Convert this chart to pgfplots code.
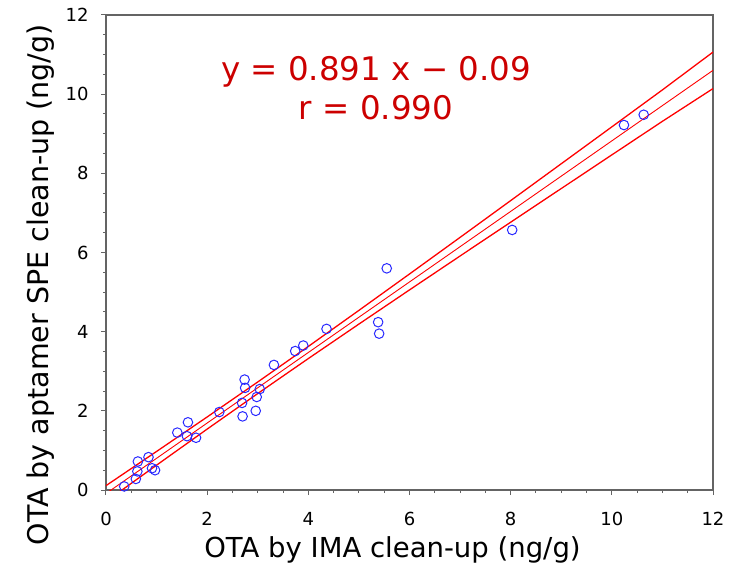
\documentclass[border=0pt]{standalone}
\usepackage{fontspec}
\setmainfont{DejaVu Sans}
\usepackage{pgfplots}
\pgfplotsset{compat=1.18}

\definecolor{axgray}{RGB}{100,100,100}
\definecolor{eqred}{RGB}{204,0,0}
\definecolor{ptblue}{RGB}{40,40,255}

\begin{document}
\begin{tikzpicture}
\begin{axis}[
    scale only axis,
    width=607pt, height=475pt,
    xmin=0, xmax=12, ymin=0, ymax=12,
    xtick={0,2,...,12}, ytick={0,2,...,12},
    minor tick num=3,
    tick align=outside,
    xtick pos=bottom, ytick pos=left,
    major tick length=5pt, minor tick length=3pt,
    axis line style={axgray, line width=1.3pt},
    every tick/.style={axgray, line width=1pt},
    tick label style={font=\fontsize{18}{20}\selectfont},
    yticklabel style={xshift=-9pt},
    xticklabel style={yshift=-14pt},
    /pgf/number format/assume math mode=true,
    xlabel={OTA by IMA clean-up (ng/g)},
    ylabel={OTA by aptamer SPE clean-up (ng/g)},
    xlabel style={font=\fontsize{27.5}{30}\selectfont, at={(ticklabel cs:0.472)}},
    ylabel style={font=\fontsize{28.5}{30}\selectfont, at={(ticklabel cs:0.432,4pt)}},
    xlabel shift=4pt,
    clip=true,
]
% confidence band and regression line
\addplot[red, line width=1.3pt] coordinates {
    (0,0.11) (1,0.974) (2,1.845) (3,2.729) (4,3.627) (5,4.538) (6,5.457)
    (7,6.382) (8,7.311) (9,8.242) (10,9.174) (11,10.108) (12,11.063)};
\addplot[red, line width=1.3pt] coordinates {
    (0,-0.291) (1,0.628) (2,1.539) (3,2.437) (4,3.321) (5,4.192) (6,5.055)
    (7,5.912) (8,6.765) (9,7.616) (10,8.466) (11,9.314) (12,10.141)};
\addplot[red, line width=0.9pt] coordinates {(0,-0.09) (12,10.602)};

% measured samples
\addplot[only marks, mark=o, mark size=4.8pt, ptblue, line width=1pt] coordinates {
    (10.63,9.48) (10.24,9.22) (8.03,6.57) (5.55,5.60) (5.38,4.24) (5.40,3.95)
    (4.36,4.07) (3.90,3.65) (3.74,3.51) (3.32,3.16) (2.74,2.79) (2.75,2.58)
    (3.04,2.55) (2.98,2.35) (2.69,2.20) (2.96,2.00) (2.70,1.86) (2.24,1.97)
    (1.62,1.71) (1.41,1.45) (1.60,1.36) (1.78,1.32) (0.84,0.83) (0.63,0.72)
    (0.62,0.47) (0.91,0.55) (0.97,0.50) (0.59,0.28) (0.36,0.09) (0.28,-0.03)};

\node[eqred, font=\fontsize{32.5}{36}\selectfont] at (axis cs:5.34,10.56) {y = 0.891 x − 0.09};
\node[eqred, font=\fontsize{32.5}{36}\selectfont] at (axis cs:5.34,9.65) {r = 0.990};
\end{axis}
\pgfresetboundingbox
\path (current axis.south west) ++(-106pt,-78pt) rectangle ([shift={(21pt,15pt)}]current axis.north east);
\end{tikzpicture}
\end{document}
